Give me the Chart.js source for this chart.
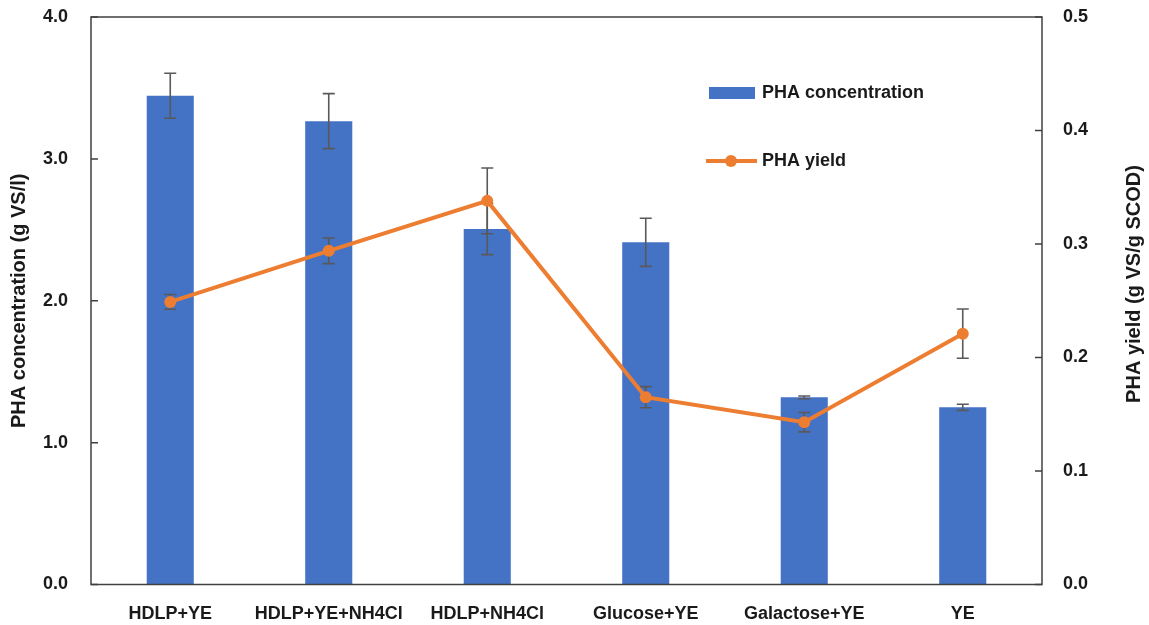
<!DOCTYPE html>
<html>
<head>
<meta charset="utf-8">
<script src="https://cdn.jsdelivr.net/npm/chart.js@4/dist/chart.umd.min.js"></script>
<style>
  html, body { margin: 0; padding: 0; background: #fff; }
  #wrap { width: 1149px; height: 625px; position: relative; }
</style>
</head>
<body>
<div id="wrap"><canvas id="chart"></canvas></div>
<script>
/* PHA concentration (bars) and PHA yield (line) by substrate */
const categories = ["HDLP+YE", "HDLP+YE+NH4Cl", "HDLP+NH4Cl", "Glucose+YE", "Galactose+YE", "YE"];
const concentration = [3.445, 3.266, 2.505, 2.412, 1.319, 1.249];
const concentrationErr = [0.159, 0.194, 0.18, 0.17, 0.01, 0.022];
const yieldValues = [0.249, 0.294, 0.338, 0.165, 0.143, 0.221];
const yieldErr = [0.0065, 0.0113, 0.029, 0.0093, 0.0085, 0.0217];
const concTicks = [0, 1, 2, 3, 4];
const yieldTicks = [0, 0.1, 0.2, 0.3, 0.4, 0.5];

const FONT = '"Liberation Sans", Arial, sans-serif';
const BLUE = "#4472C4";
const ORANGE = "#ED7D31";
const AXIS = "#404040";
const TEXT = "#1a1a1a";

function drawErrors(chart, dsIndex, errs, scaleId) {
  const ctx = chart.ctx;
  const meta = chart.getDatasetMeta(dsIndex);
  const scale = chart.scales[scaleId];
  const vals = chart.data.datasets[dsIndex].data;
  ctx.save();
  ctx.strokeStyle = "#595959";
  ctx.lineWidth = 1.6;
  meta.data.forEach((el, i) => {
    const x = el.x;
    const yTop = scale.getPixelForValue(vals[i] + errs[i]);
    const yBot = scale.getPixelForValue(vals[i] - errs[i]);
    ctx.beginPath();
    ctx.moveTo(x, yTop); ctx.lineTo(x, yBot);
    ctx.moveTo(x - 6, yTop); ctx.lineTo(x + 6, yTop);
    ctx.moveTo(x - 6, yBot); ctx.lineTo(x + 6, yBot);
    ctx.stroke();
  });
  ctx.restore();
}

const extras = {
  id: "extras",
  afterDatasetDraw(chart, args) {
    // bars are drawn first; put every error bar on them, the line goes on top
    if (args.index !== 0) return;
    drawErrors(chart, 0, concentrationErr, "y");
    drawErrors(chart, 1, yieldErr, "y1");
  },
  afterDraw(chart) {
    const ctx = chart.ctx;
    const a = chart.chartArea;
    ctx.save();
    // frame
    ctx.strokeStyle = AXIS;
    ctx.lineWidth = 1.5;
    ctx.strokeRect(a.left, a.top, a.right - a.left, a.bottom - a.top);
    // inward ticks on both value axes
    ctx.beginPath();
    chart.scales.y.ticks.forEach((t) => {
      const y = chart.scales.y.getPixelForValue(t.value);
      ctx.moveTo(a.left, y); ctx.lineTo(a.left + 7, y);
    });
    chart.scales.y1.ticks.forEach((t) => {
      const y = chart.scales.y1.getPixelForValue(t.value);
      ctx.moveTo(a.right, y); ctx.lineTo(a.right - 7, y);
    });
    ctx.stroke();

    // axis titles
    ctx.fillStyle = TEXT;
    ctx.font = "bold 20px " + FONT;
    ctx.textAlign = "center";
    ctx.textBaseline = "middle";
    ctx.save();
    ctx.translate(19, (a.top + a.bottom) / 2);
    ctx.rotate(-Math.PI / 2);
    ctx.fillText("PHA concentration (g VS/l)", 0, 0);
    ctx.restore();
    ctx.save();
    ctx.translate(1134, 284);
    ctx.rotate(-Math.PI / 2);
    ctx.fillText("PHA yield (g VS/g SCOD)", 0, 0);
    ctx.restore();

    // legend
    ctx.fillStyle = BLUE;
    ctx.fillRect(709, 87, 46, 12);
    ctx.strokeStyle = ORANGE;
    ctx.lineWidth = 4;
    ctx.beginPath();
    ctx.moveTo(706, 161); ctx.lineTo(757, 161);
    ctx.stroke();
    ctx.fillStyle = ORANGE;
    ctx.beginPath();
    ctx.arc(731, 161, 6, 0, Math.PI * 2);
    ctx.fill();
    ctx.fillStyle = TEXT;
    ctx.font = "bold 18px " + FONT;
    ctx.textAlign = "left";
    ctx.fillText("PHA concentration", 762, 93);
    ctx.fillText("PHA yield", 762, 161);
    ctx.restore();
  },
};

new Chart(document.getElementById("chart"), {
  type: "bar",
  data: {
    labels: categories,
    datasets: [
      {
        label: "PHA concentration",
        data: concentration,
        backgroundColor: BLUE,
        yAxisID: "y",
        categoryPercentage: 1,
        barPercentage: 0.297,
        order: 1,
      },
      {
        type: "line",
        label: "PHA yield",
        data: yieldValues,
        yAxisID: "y1",
        borderColor: ORANGE,
        backgroundColor: ORANGE,
        borderWidth: 4,
        pointRadius: 6,
        pointBorderWidth: 0,
        pointBackgroundColor: ORANGE,
        tension: 0,
        order: 0,
      },
    ],
  },
  options: {
    responsive: true,
    maintainAspectRatio: false,
    animation: false,
    layout: { padding: { top: 17, left: 0, right: 0, bottom: 0 } },
    plugins: { legend: { display: false }, tooltip: { enabled: false } },
    scales: {
      x: {
        grid: { display: false },
        border: { display: false },
        ticks: { color: TEXT, font: { family: FONT, size: 18, weight: "bold" }, padding: 11, maxRotation: 0 },
        afterFit: (s) => { s.height = 40.5; s.paddingLeft = 0; s.paddingRight = 0; },
      },
      y: {
        position: "left",
        min: 0,
        max: 4,
        grid: { display: false },
        border: { display: false },
        afterBuildTicks: (s) => { s.ticks = concTicks.map((v) => ({ value: v })); },
        ticks: {
          color: TEXT,
          font: { family: FONT, size: 18, weight: "bold" },
          padding: 15,
          callback: (v) => Number(v).toFixed(1),
        },
        afterFit: (s) => { s.width = 91; s.paddingTop = 0; s.paddingBottom = 0; },
      },
      y1: {
        position: "right",
        min: 0,
        max: 0.5,
        grid: { display: false },
        border: { display: false },
        afterBuildTicks: (s) => { s.ticks = yieldTicks.map((v) => ({ value: v })); },
        ticks: {
          color: TEXT,
          font: { family: FONT, size: 18, weight: "bold" },
          padding: 13,
          callback: (v) => Number(v).toFixed(1),
        },
        afterFit: (s) => { s.width = 107; s.paddingTop = 0; s.paddingBottom = 0; },
      },
    },
  },
  plugins: [extras],
});
</script>
</body>
</html>
